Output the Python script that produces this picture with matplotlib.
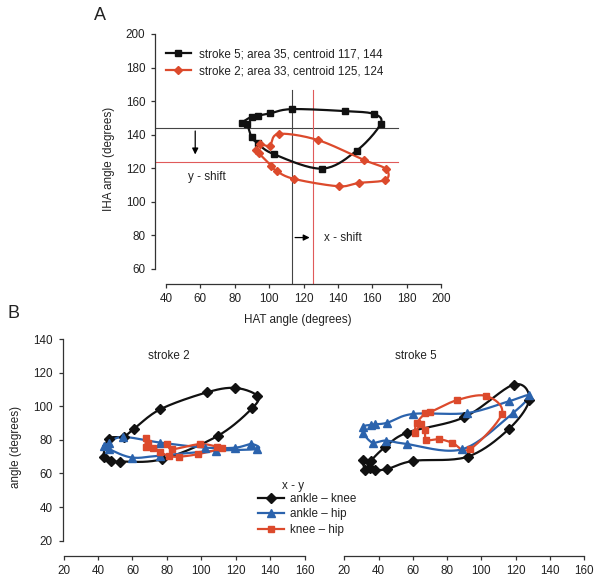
import numpy as np
import matplotlib
matplotlib.use("Agg")
import matplotlib.pyplot as plt
from matplotlib.lines import Line2D

plt.rcParams['font.family'] = ['Liberation Sans', 'DejaVu Sans']
plt.rcParams['font.size'] = 8.4
plt.rcParams['text.color'] = "#222222"
plt.rcParams['axes.labelcolor'] = "#222222"
plt.rcParams['xtick.labelcolor'] = "#222222"
plt.rcParams['ytick.labelcolor'] = "#222222"

# ---- panel A: HAT vs IHA loops ----
s5_hat = [84.4, 89.8, 93.3, 100.7, 113.3, 144.3, 160.9, 164.8, 150.9, 130.7, 102.8, 93.3, 89.8, 87.1]
s5_iha = [147.1, 150.7, 151.3, 152.7, 155.2, 154.0, 152.3, 146.3, 130.4, 119.7, 128.3, 134.8, 138.4, 146.3]
s2_hat = [105.5, 128.2, 155.1, 167.9, 167.7, 152.4, 140.4, 114.4, 104.3, 101.2, 93.9, 92.5, 94.5, 100.3]
s2_iha = [140.4, 136.8, 124.9, 119.5, 113.0, 111.2, 109.2, 113.6, 118.3, 121.5, 128.9, 130.8, 134.4, 133.4]
label_s5 = "stroke 5; area 35, centroid 117, 144"
label_s2 = "stroke 2; area 33, centroid 125, 124"
cent5 = (113.5, 143.8)
cent2 = (125.5, 123.6)

# ---- panel B: joint angle loops ----
ak2_x = [43.3, 47.7, 53.0, 77.2, 109.5, 129.5, 132.4, 119.8, 103.3, 76.2, 60.7, 54.9, 46.2]
ak2_y = [69.7, 67.5, 67.1, 68.5, 82.4, 98.9, 106.3, 111.0, 108.4, 98.3, 86.4, 82.0, 80.6]
ah2_x = [43.3, 46.2, 54.3, 76.2, 102.4, 119.8, 129.0, 132.4, 108.7, 76.2, 59.7, 46.5]
ah2_y = [76.4, 78.0, 81.8, 78.4, 75.4, 75.4, 77.6, 74.6, 73.6, 70.7, 69.5, 74.5]
kh2_x = [68.0, 68.0, 72.0, 80.0, 83.0, 99.0, 109.0, 112.0, 98.0, 87.0, 81.0, 76.0, 69.0]
kh2_y = [81.0, 76.0, 75.0, 77.5, 74.5, 77.5, 76.0, 75.0, 71.5, 70.0, 70.5, 73.0, 78.0]

ak5_x = [60.3, 92.0, 116.0, 128.0, 119.0, 90.0, 56.8, 43.8, 35.7, 32.2, 31.2, 35.1, 38.0, 45.2]
ak5_y = [67.5, 70.0, 86.4, 104.0, 113.0, 93.5, 84.4, 75.7, 67.7, 62.1, 68.1, 63.5, 62.1, 62.7]
ah5_x = [31.2, 35.7, 38.0, 45.2, 60.0, 91.5, 116.0, 128.0, 118.4, 89.0, 56.4, 44.2, 36.5, 31.2]
ah5_y = [88.0, 89.0, 89.3, 90.3, 95.5, 96.0, 103.0, 106.5, 96.0, 74.5, 77.6, 79.6, 78.4, 84.0]
kh5_x = [61.3, 62.3, 67.4, 70.0, 86.0, 103.0, 112.0, 93.3, 83.0, 75.5, 68.0, 67.0, 64.6]
kh5_y = [84.0, 90.0, 96.0, 96.5, 103.8, 106.2, 95.5, 74.5, 78.4, 80.4, 80.0, 86.0, 89.3]

BLACK = "#111111"
RED = "#dc4a2c"
BLUE = "#2b63ad"


def smooth_loop(x, y, n=20):
    """closed Catmull-Rom curve through the points (like Excel smoothed lines)"""
    p = np.column_stack([x, y])
    m = len(p)
    out = []
    t = np.linspace(0, 1, n, endpoint=False)[:, None]
    for i in range(m):
        p0, p1, p2, p3 = p[i - 1], p[i], p[(i + 1) % m], p[(i + 2) % m]
        seg = 0.5 * ((2 * p1) + (-p0 + p2) * t + (2 * p0 - 5 * p1 + 4 * p2 - p3) * t ** 2
                     + (-p0 + 3 * p1 - 3 * p2 + p3) * t ** 3)
        out.append(seg)
    out.append(p[:1])
    out = np.vstack(out)
    return out[:, 0], out[:, 1]


def loop(ax, x, y, color, marker, ms):
    sx, sy = smooth_loop(x, y)
    ax.plot(sx, sy, color=color, lw=1.6, zorder=3)
    ax.plot(x, y, ls="none", marker=marker, color=color, ms=ms, zorder=4)


def style(ax, xb, yb):
    for s in ["top", "right"]:
        ax.spines[s].set_visible(False)
    ax.spines["bottom"].set_bounds(*xb)
    ax.spines["left"].set_bounds(*yb)
    for s in ["bottom", "left"]:
        ax.spines[s].set_linewidth(0.9)
        ax.spines[s].set_color("#333333")
    ax.tick_params(length=3, width=0.9, color="#333333", labelsize=8.4, pad=4)
    ax.patch.set_alpha(0)


fig = plt.figure(figsize=(6.01, 5.82), dpi=100)
W, H = 601.0, 582.0


def px_axes(x0, y0, x1, y1):
    return fig.add_axes([x0 / W, 1 - y1 / H, (x1 - x0) / W, (y1 - y0) / H])


# panel A
axA = px_axes(155, 34, 441, 283.5)
axA.set_xlim(33.6, 200)
axA.set_ylim(51.2, 200)
style(axA, (40, 200), (60, 200))
axA.set_xticks(np.arange(40, 201, 20))
axA.set_yticks(np.arange(60, 201, 20))

axA.plot([33.6, 175], [cent5[1], cent5[1]], color="#444444", lw=0.8, zorder=2)
axA.plot([cent5[0], cent5[0]], [51.2, 166.5], color="#444444", lw=0.8, zorder=2)
axA.plot([33.6, 175], [cent2[1], cent2[1]], color="#e05a5a", lw=0.8, zorder=2)
axA.plot([cent2[0], cent2[0]], [51.2, 166.5], color="#e05a5a", lw=0.8, zorder=2)

loop(axA, s5_hat, s5_iha, BLACK, "s", 5)
loop(axA, s2_hat, s2_iha, RED, "D", 4.5)

axA.annotate("", xy=(57, 126.5), xytext=(57, cent5[1]),
             arrowprops=dict(arrowstyle="-|>", color="black", lw=0.9, mutation_scale=9))
axA.text(53, 114.5, "y - shift", ha="left", va="center")
axA.annotate("", xy=(cent2[0] - 0.3, 78.6), xytext=(cent5[0], 78.6),
             arrowprops=dict(arrowstyle="-|>", color="black", lw=0.9, mutation_scale=9))
axA.text(132, 78.3, "x - shift", ha="left", va="center")

hA = [Line2D([], [], color=BLACK, lw=1.6, marker="s", ms=5),
      Line2D([], [], color=RED, lw=1.6, marker="D", ms=4.5)]
axA.legend(hA, [label_s5, label_s2], loc="upper left", bbox_to_anchor=(0.038, 0.943),
           frameon=False, handlelength=2.15, handletextpad=0.65, labelspacing=0.45,
           borderpad=0, borderaxespad=0, fontsize=8.4)
axA.set_xlabel("HAT angle (degrees)", labelpad=6)
axA.set_ylabel("IHA angle (degrees)", labelpad=8)
fig.text(100 / W, 1 - 15 / H, "A", fontsize=13, ha="center", va="center")
fig.text(13 / W, 1 - 313 / H, "B", fontsize=13, ha="center", va="center")

# panel B
axL = px_axes(62.5, 339.3, 304.7, 555.5)
axL.set_xlim(19.4, 160)
axL.set_ylim(11.1, 140)
style(axL, (20, 160), (20, 140))
axL.set_xticks(np.arange(20, 161, 20))
axL.set_yticks(np.arange(20, 141, 20))
loop(axL, ak2_x, ak2_y, BLACK, "D", 5)
loop(axL, ah2_x, ah2_y, BLUE, "^", 6)
loop(axL, kh2_x, kh2_y, RED, "s", 5)
axL.text(81, 130, "stroke 2", ha="center", va="center")
axL.set_ylabel("angle (degrees)", labelpad=8)

axR = px_axes(344.3, 339.3, 584, 555.5)
axR.set_xlim(20, 160)
axR.set_ylim(11.1, 140)
style(axR, (20, 160), (20, 140))
axR.spines["left"].set_visible(False)
axR.set_yticks([])
axR.set_xticks(np.arange(20, 161, 20))
loop(axR, ak5_x, ak5_y, BLACK, "D", 5)
loop(axR, ah5_x, ah5_y, BLUE, "^", 6)
loop(axR, kh5_x, kh5_y, RED, "s", 5)
axR.text(62, 130, "stroke 5", ha="center", va="center")

hB = [Line2D([], [], color=BLACK, lw=1.6, marker="D", ms=5),
      Line2D([], [], color=BLUE, lw=1.6, marker="^", ms=6),
      Line2D([], [], color=RED, lw=1.6, marker="s", ms=5)]
fig.text(282 / W, 1 - 486 / H, "x - y", ha="left", va="center")
fig.legend(hB, ["ankle \u2013 knee", "ankle \u2013 hip", "knee \u2013 hip"],
           loc="upper left", bbox_to_anchor=(258 / W, 1 - 493 / H), frameon=False,
           handlelength=2.2, handletextpad=0.55, labelspacing=0.3, borderpad=0,
           borderaxespad=0, fontsize=8.4)

fig.savefig("out.png", dpi=100)
